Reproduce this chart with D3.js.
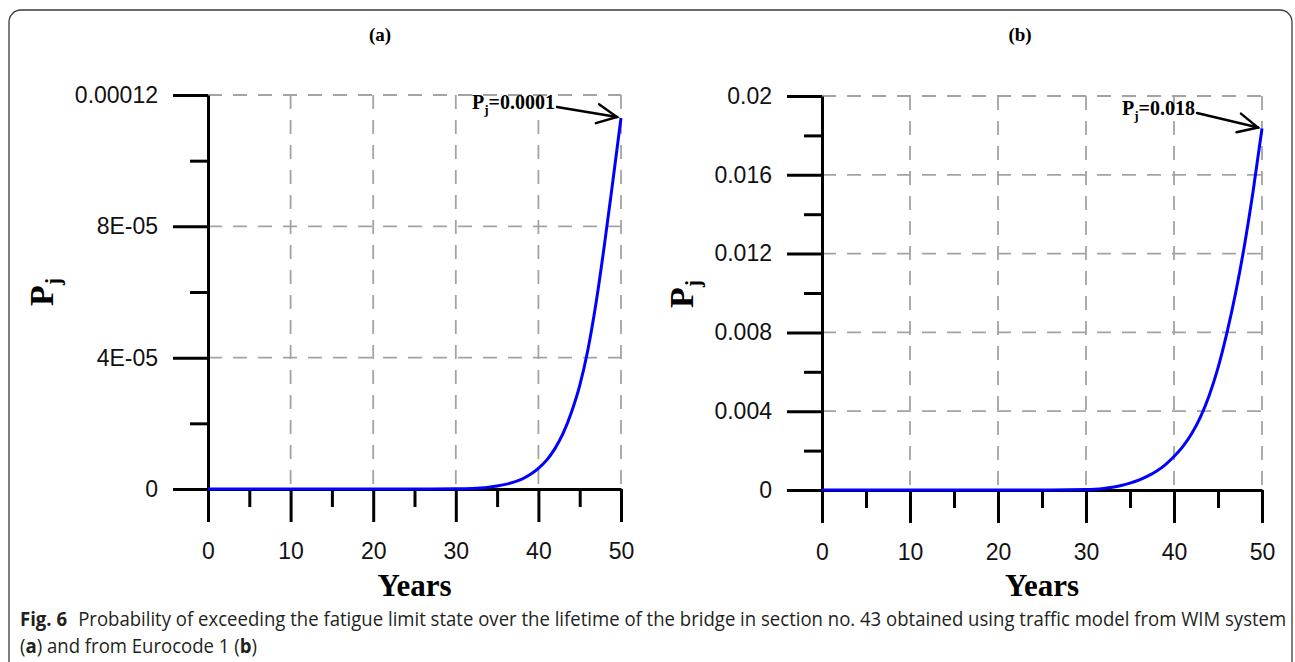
<!DOCTYPE html>
<html>
<head>
<meta charset="utf-8">
<script src="https://cdn.jsdelivr.net/npm/d3@7"></script>
<style>
  body { margin: 0; background: #fff; }
  svg { display: block; }
</style>
</head>
<body>
<svg id="fig" width="1295" height="662"></svg>
<script>
// ---- data -------------------------------------------------------------
const years = [0, 5, 10, 15, 20, 25, 30, 31, 32, 33, 34, 35, 36, 37, 38, 39, 40,
               41, 42, 43, 44, 45, 46, 47, 48, 49, 50];

// (a) probability of exceedance, traffic model from WIM system
const pjWim = [0, 0, 0, 0, 0, 0, 0.04e-6, 0.08e-6, 0.15e-6, 0.3e-6, 0.55e-6, 0.9e-6,
               1.4e-6, 2.1e-6, 3.0e-6, 4.4e-6, 6.3e-6, 8.8e-6, 12.3e-6, 17.0e-6,
               23.4e-6, 31.5e-6, 42.5e-6, 57e-6, 74.5e-6, 93.5e-6, 113e-6];

// (b) probability of exceedance, traffic model from Eurocode 1
const pjEurocode = [0, 0, 0, 0, 0, 0, 0.00002, 0.00004, 0.00008, 0.00014, 0.00023,
                    0.00035, 0.0005, 0.0007, 0.00095, 0.00128, 0.0017, 0.0022, 0.00285,
                    0.0037, 0.0048, 0.0062, 0.00795, 0.0100, 0.0124, 0.0152, 0.01835];

const xMajorTicks = [0, 10, 20, 30, 40, 50];
const xMinorTicks = [5, 15, 25, 35, 45];

const yMajorWim = [0, 4e-5, 8e-5, 1.2e-4];
const yLabelsWim = ["0", "4E-05", "8E-05", "0.00012"];
const yMinorWim = [2e-5, 6e-5, 1e-4];

const yMajorEurocode = [0, 0.004, 0.008, 0.012, 0.016, 0.02];
const yLabelsEurocode = ["0", "0.004", "0.008", "0.012", "0.016", "0.02"];
const yMinorEurocode = [0.002, 0.006, 0.010, 0.014, 0.018];

const panelTitles = ["(a)", "(b)"];
const annotationLabels = ["0.0001", "0.018"];
const xAxisTitle = "Years";

// ---- layout -----------------------------------------------------------
const svg = d3.select("#fig");
const SERIF = "'Liberation Serif', 'Times New Roman', serif";
const SANS = "'Liberation Sans', Arial, sans-serif";

// outer frame of the figure box
svg.append("rect")
  .attr("x", 9).attr("y", 10)
  .attr("width", 1283).attr("height", 720)
  .attr("rx", 12).attr("ry", 12)
  .attr("fill", "none").attr("stroke", "#3a3a3a").attr("stroke-width", 1.3);

const panels = [
  { values: pjWim, yMax: 1.2e-4, yMajor: yMajorWim, yLabels: yLabelsWim, yMinor: yMinorWim,
    x0: 208, x1: 621, yTop: 95, yBot: 489, title: panelTitles[0], titleX: 380,
    ylabX: 53, ylabY: 292, note: annotationLabels[0], noteX: 472, noteY: 109 },
  { values: pjEurocode, yMax: 0.02, yMajor: yMajorEurocode, yLabels: yLabelsEurocode, yMinor: yMinorEurocode,
    x0: 822, x1: 1262, yTop: 96, yBot: 490, title: panelTitles[1], titleX: 1020,
    ylabX: 693, ylabY: 294, note: annotationLabels[1], noteX: 1122, noteY: 115 }
];

panels.forEach(p => {
  const x = d3.scaleLinear().domain([0, 50]).range([p.x0, p.x1]);
  const y = d3.scaleLinear().domain([0, p.yMax]).range([p.yBot, p.yTop]);
  const g = svg.append("g");

  // dashed grid
  const grid = g.append("g")
    .attr("stroke", "#a3a3a3").attr("stroke-width", 1.8)
    .attr("stroke-dasharray", "14,11").attr("fill", "none");
  grid.selectAll("line.h").data(p.yMajor.filter(v => v > 0)).join("line")
    .attr("class", "h")
    .attr("x1", x(0)).attr("x2", x(50))
    .attr("y1", d => y(d)).attr("y2", d => y(d));
  grid.selectAll("line.v").data(xMajorTicks.filter(v => v > 0)).join("line")
    .attr("class", "v")
    .attr("x1", d => x(d)).attr("x2", d => x(d))
    .attr("y1", y(p.yMax)).attr("y2", y(0));

  // y axis: major ticks with labels, then minor ticks
  g.append("g").attr("transform", `translate(${x(0)},0)`)
    .call(d3.axisLeft(y).tickValues(p.yMajor).tickSize(35).tickSizeOuter(0)
      .tickPadding(15).tickFormat((d, i) => p.yLabels[i]));
  g.append("g").attr("transform", `translate(${x(0)},0)`)
    .call(d3.axisLeft(y).tickValues(p.yMinor).tickSize(18).tickFormat(""))
    .select(".domain").remove();

  // x axis: major ticks with labels, then minor ticks
  g.append("g").attr("transform", `translate(0,${y(0)})`)
    .call(d3.axisBottom(x).tickValues(xMajorTicks).tickSize(33).tickSizeOuter(0)
      .tickPadding(21).tickFormat(d3.format("d")));
  g.append("g").attr("transform", `translate(0,${y(0)})`)
    .call(d3.axisBottom(x).tickValues(xMinorTicks).tickSize(18).tickFormat(""))
    .select(".domain").remove();

  g.selectAll(".domain, .tick line")
    .attr("stroke", "#000").attr("stroke-width", 3);
  g.selectAll(".tick text")
    .attr("fill", "#111").style("font-family", SANS).style("font-size", "23px");

  // probability curve
  const line = d3.line()
    .x((d, i) => x(years[i]))
    .y(d => y(d))
    .curve(d3.curveMonotoneX);
  g.append("path").datum(p.values)
    .attr("d", line)
    .attr("fill", "none").attr("stroke", "#0000ff").attr("stroke-width", 3);

  // panel title
  g.append("text")
    .attr("x", p.titleX).attr("y", 41)
    .attr("text-anchor", "middle")
    .style("font-family", SERIF).style("font-weight", "bold").style("font-size", "19px")
    .text(p.title);

  // axis titles
  g.append("text")
    .attr("x", x(25)).attr("y", 596)
    .attr("text-anchor", "middle")
    .style("font-family", SERIF).style("font-weight", "bold").style("font-size", "31px")
    .text(xAxisTitle);

  const yl = g.append("text")
    .attr("transform", `translate(${p.ylabX},${p.ylabY}) rotate(-90)`)
    .attr("text-anchor", "middle")
    .style("font-family", SERIF).style("font-weight", "bold").style("font-size", "34px");
  yl.append("tspan").text("P");
  yl.append("tspan").attr("dy", 7).style("font-size", "21px").text("j");

  // end-value annotation with arrow
  const note = g.append("text")
    .attr("x", p.noteX).attr("y", p.noteY)
    .style("font-family", SERIF).style("font-weight", "bold").style("font-size", "20px");
  note.append("tspan").text("P");
  note.append("tspan").attr("dy", 5).style("font-size", "13px").text("j");
  note.append("tspan").attr("dy", -5).text("=" + p.note);

  const box = note.node().getBBox();
  const last = p.values[p.values.length - 1];
  const sx = box.x + box.width + 2, sy = p.noteY - 2;
  const tx = x(50) - 4, ty = y(last) - 1;
  const ang = Math.atan2(ty - sy, tx - sx);
  const wing = 22, spread = 0.45;
  const arrow = g.append("g").attr("stroke", "#000").attr("stroke-width", 2.4)
    .attr("fill", "none").attr("stroke-linecap", "round");
  arrow.append("line").attr("x1", sx).attr("y1", sy).attr("x2", tx).attr("y2", ty);
  arrow.append("polyline").attr("points", [
    [tx - wing * Math.cos(ang - spread), ty - wing * Math.sin(ang - spread)],
    [tx, ty],
    [tx - wing * Math.cos(ang + spread), ty - wing * Math.sin(ang + spread)]
  ].map(q => q.join(",")).join(" "));
});

// ---- caption ------------------------------------------------------------
const CAP = "'Open Sans', 'Noto Sans', sans-serif";
const cap = svg.append("g").style("font-family", CAP).style("font-size", "20px").attr("fill", "#231f20");
const l1 = cap.append("text").attr("x", 0).attr("y", 626);
l1.append("tspan").style("font-weight", "bold").text("Fig. 6");
l1.append("tspan").attr("dx", 12)
  .text("Probability of exceeding the fatigue limit state over the lifetime of the bridge in section no. 43 obtained using traffic model from WIM system");
const l2 = cap.append("text").attr("x", 0).attr("y", 653);
l2.append("tspan").text("(");
l2.append("tspan").style("font-weight", "bold").text("a");
l2.append("tspan").text(") and from Eurocode 1 (");
l2.append("tspan").style("font-weight", "bold").text("b");
l2.append("tspan").text(")");
const w1 = l1.node().getComputedTextLength();
cap.attr("transform", `translate(20,0) scale(${1256 / w1},1)`);
</script>
</body>
</html>
